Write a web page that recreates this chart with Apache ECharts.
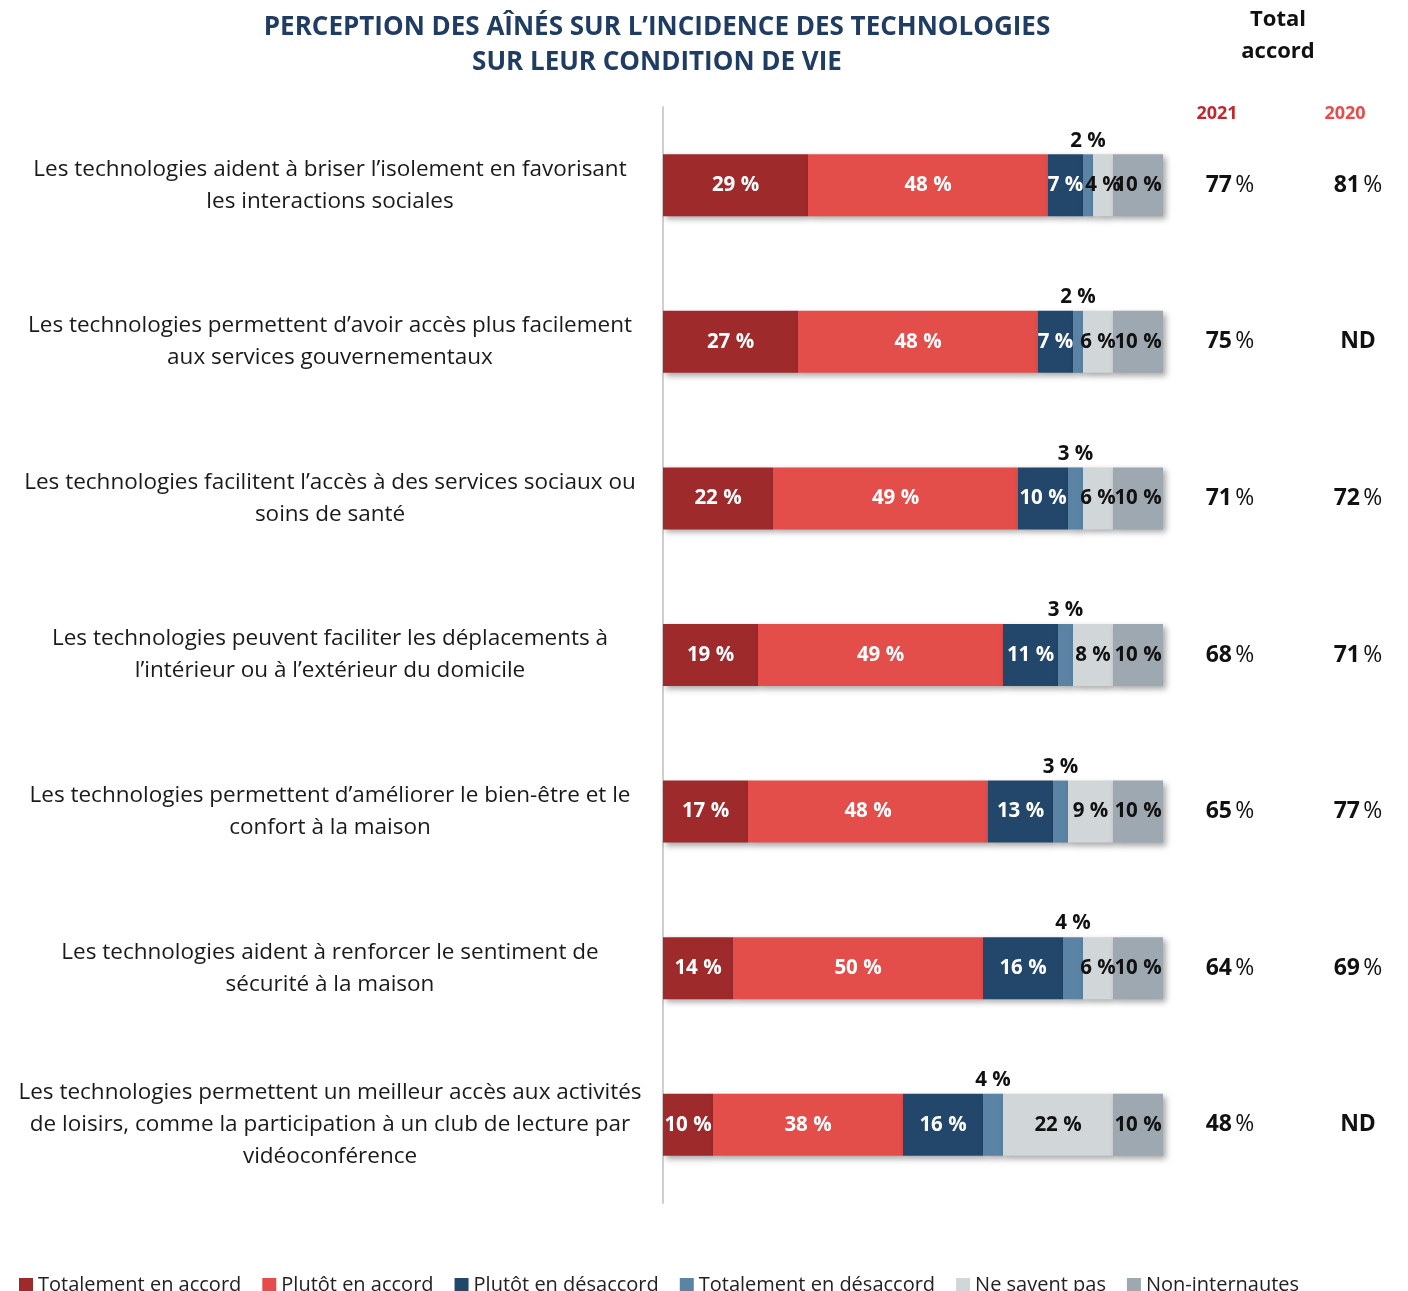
<!DOCTYPE html>
<html>
<head>
<meta charset="utf-8">
<script src="https://cdn.jsdelivr.net/npm/echarts@6/dist/echarts.min.js"></script>
<style>
  html, body { margin: 0; padding: 0; background: #fff; }
  #chart { width: 1408px; height: 1291px; }
</style>
</head>
<body>
<div id="chart"></div>
<script>
const categories = [
  "Les technologies aident à briser l’isolement en favorisant\nles interactions sociales",
  "Les technologies permettent d’avoir accès plus facilement\naux services gouvernementaux",
  "Les technologies facilitent l’accès à des services sociaux ou\nsoins de santé",
  "Les technologies peuvent faciliter les déplacements à\nl’intérieur ou à l’extérieur du domicile",
  "Les technologies permettent d’améliorer le bien-être et le\nconfort à la maison",
  "Les technologies aident à renforcer le sentiment de\nsécurité à la maison",
  "Les technologies permettent un meilleur accès aux activités\nde loisirs, comme la participation à un club de lecture par\nvidéoconférence"
];
const totalementAccord = [29, 27, 22, 19, 17, 14, 10];
const plutotAccord = [48, 48, 49, 49, 48, 50, 38];
const plutotDesaccord = [7, 7, 10, 11, 13, 16, 16];
const totalementDesaccord = [2, 2, 3, 3, 3, 4, 4];
const neSaventPas = [4, 6, 6, 8, 9, 6, 22];
const nonInternautes = [10, 10, 10, 10, 10, 10, 10];
const total2021 = ["77", "75", "71", "68", "65", "64", "48"];
const total2020 = ["81", "ND", "72", "71", "77", "69", "ND"];

const FONT = "Open Sans";
const chart = echarts.init(document.getElementById("chart"));

const shadow = {
  shadowBlur: 6,
  shadowColor: "rgba(0,0,0,0.35)",
  shadowOffsetX: 3,
  shadowOffsetY: 3
};

function bar(name, data, color, labelColor, pos) {
  return {
    name: name,
    type: "bar",
    stack: "all",
    barWidth: 62,
    data: data,
    itemStyle: Object.assign({ color: color }, shadow),
    label: {
      show: true,
      position: pos || "inside",
      formatter: "{c} %",
      color: labelColor,
      fontFamily: FONT,
      fontWeight: "bold",
      fontSize: 20.5,
      distance: 3
    }
  };
}

const totalFormatter = (v) =>
  v === "ND" ? "{b|ND}" : "{b|" + v + "} {n|%}";
const totalRich = {
  b: { fontFamily: FONT, fontWeight: "bold", fontSize: 23, color: "#111" },
  n: { fontFamily: FONT, fontSize: 23, color: "#111" }
};

const option = {
  animation: false,
  title: [
    {
      text: "PERCEPTION DES AÎNÉS SUR L’INCIDENCE DES TECHNOLOGIES\nSUR LEUR CONDITION DE VIE",
      left: 652,
      top: 5,
      textAlign: "center",
      textStyle: {
        fontFamily: FONT,
        fontWeight: "bold",
        fontSize: 26,
        lineHeight: 35,
        color: "#1f3c62"
      }
    },
    {
      text: "Total\naccord",
      left: 1273,
      top: -1,
      textAlign: "center",
      textStyle: {
        fontFamily: FONT,
        fontWeight: "bold",
        fontSize: 22,
        lineHeight: 32,
        color: "#111"
      }
    },
    {
      text: "2021",
      left: 1212,
      top: 100,
      textAlign: "center",
      textStyle: { fontFamily: FONT, fontWeight: "bold", fontSize: 18, color: "#c0282d" }
    },
    {
      text: "2020",
      left: 1340,
      top: 100,
      textAlign: "center",
      textStyle: { fontFamily: FONT, fontWeight: "bold", fontSize: 18, color: "#e84c4a" }
    }
  ],
  legend: {
    left: 14,
    top: 1270,
    itemWidth: 14,
    itemHeight: 14,
    itemGap: 21,
    icon: "rect",
    textStyle: { fontFamily: FONT, fontSize: 20, color: "#222" }
  },
  grid: { left: 663, right: 245, top: 107, bottom: 88 },
  xAxis: {
    type: "value",
    min: 0,
    max: 100,
    show: false
  },
  yAxis: [
    {
      type: "category",
      inverse: true,
      data: categories,
      axisLine: { show: true, lineStyle: { color: "#cfcfcf", width: 2 } },
      axisTick: { show: false },
      axisLabel: {
        interval: 0,
        align: "center",
        margin: 333,
        fontFamily: FONT,
        fontSize: 22.5,
        lineHeight: 32,
        color: "#1a1a1a"
      }
    },
    {
      type: "category",
      inverse: true,
      position: "right",
      data: total2021,
      axisLine: { show: false },
      axisTick: { show: false },
      axisLabel: { interval: 0, align: "center", margin: 67, formatter: totalFormatter, rich: totalRich }
    },
    {
      type: "category",
      inverse: true,
      position: "right",
      data: total2020,
      axisLine: { show: false },
      axisTick: { show: false },
      axisLabel: { interval: 0, align: "center", margin: 195, formatter: totalFormatter, rich: totalRich }
    }
  ],
  series: [
    bar("Totalement en accord", totalementAccord, "#9e2a2b", "#fff"),
    bar("Plutôt en accord", plutotAccord, "#e34d4a", "#fff"),
    bar("Plutôt en désaccord", plutotDesaccord, "#22476b", "#fff"),
    bar("Totalement en désaccord", totalementDesaccord, "#5a83a4", "#111", "top"),
    bar("Ne savent pas", neSaventPas, "#d1d6d9", "#111"),
    bar("Non-internautes", nonInternautes, "#9da8b0", "#111")
  ]
};

chart.setOption(option);
</script>
</body>
</html>
